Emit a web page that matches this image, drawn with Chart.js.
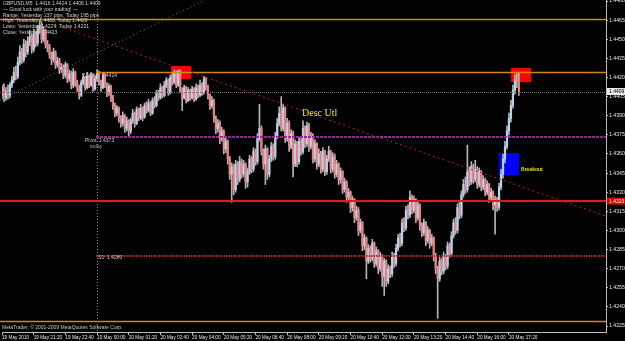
<!DOCTYPE html>
<html><head><meta charset="utf-8">
<script src="https://cdn.jsdelivr.net/npm/chart.js@4.4.0/dist/chart.umd.min.js"></script>
<style>html,body{margin:0;padding:0;background:#000;overflow:hidden}canvas{display:block}</style>
</head><body>
<canvas id="c" width="625" height="341"></canvas>
<script>
// ---------- DATA ----------
const infoLines = [
  'GBPUSD,M5  1.4416 1.4424 1.4406 1.4409',
  '\u2014 Good luck with your trading! \u2014',
  'Range: Yesterday 237 pips, Today 195 pips',
  'High: Yesterday 1.4466, Today 1.4426',
  'Lows: Yesterday 1.4229, Today 1.4231',
  'Close: Yesterday 1.4423'
];
const footerText = 'MetaTrader, \u00a9 2001-2009 MetaQuotes Software Corp.';

// x tick labels, one every 16 bars (80 minutes of M5 bars)
const tickLabels = ['19 May 2010','19 May 21:20','19 May 22:40','20 May 00:00','20 May 01:20','20 May 02:40',
  '20 May 04:00','20 May 05:20','20 May 06:40','20 May 08:00','20 May 09:20','20 May 10:40',
  '20 May 12:00','20 May 13:20','20 May 14:40','20 May 16:00','20 May 17:20'];
const yTicks = [1.4225,1.4240,1.4255,1.4270,1.4285,1.4300,1.4315,1.4330,1.4345,1.4360,1.4375,1.4390,1.4405,1.4420,1.4435,1.4450,1.4465,1.4480];

const opens = [
1.4406,1.4412,1.4404,1.4409,1.4406,1.4414,1.4418,1.4424,1.4421,1.4432,
1.4440,1.4434,1.4446,1.4440,1.4448,1.4452,1.4442,1.4454,1.4447,1.4458,
1.4461,1.4450,1.4457,1.4446,1.4444,1.4438,1.4434,1.4440,1.4430,1.4433,
1.4426,1.4428,1.4422,1.4430,1.4419,1.4423,1.4414,1.4424,1.4416,1.4412,
1.4406,1.4416,1.4420,1.4412,1.4421,1.4414,1.4422,1.4411,1.4419,1.4424,
1.4416,1.4412,1.4422,1.4414,1.4408,1.4413,1.4404,1.4398,1.4392,1.4396,
1.4388,1.4384,1.4390,1.4380,1.4386,1.4378,1.4386,1.4392,1.4384,1.4395,
1.4388,1.4396,1.4389,1.4398,1.4394,1.4400,1.4392,1.4402,1.4398,1.4408,
1.4404,1.4412,1.4406,1.4414,1.4418,1.4408,1.4420,1.4416,1.4424,1.4414,
1.4425,1.4410,1.4404,1.4412,1.4402,1.4410,1.4404,1.4411,1.4403,1.4412,
1.4406,1.4414,1.4408,1.4419,1.4412,1.4406,1.4398,1.4402,1.4388,1.4380,
1.4384,1.4372,1.4378,1.4364,1.4370,1.4356,1.4344,1.4350,1.4332,1.4352,
1.4340,1.4354,1.4344,1.4352,1.4338,1.4346,1.4356,1.4348,1.4362,1.4354,
1.4372,1.4380,1.4362,1.4352,1.4364,1.4344,1.4356,1.4366,1.4358,1.4374,
1.4384,1.4392,1.4380,1.4396,1.4372,1.4384,1.4366,1.4376,1.4352,1.4368,
1.4354,1.4370,1.4362,1.4380,1.4368,1.4382,1.4366,1.4374,1.4356,1.4368,
1.4352,1.4360,1.4348,1.4362,1.4346,1.4356,1.4362,1.4348,1.4358,1.4344,
1.4352,1.4340,1.4346,1.4332,1.4338,1.4326,1.4330,1.4318,1.4324,1.4310,
1.4316,1.4300,1.4306,1.4288,1.4294,1.4276,1.4286,1.4278,1.4290,1.4274,
1.4284,1.4270,1.4280,1.4264,1.4276,1.4260,1.4270,1.4266,1.4280,1.4274,
1.4286,1.4294,1.4290,1.4306,1.4302,1.4316,1.4312,1.4326,1.4316,1.4324,
1.4310,1.4320,1.4304,1.4298,1.4306,1.4292,1.4300,1.4290,1.4294,1.4280,
1.4270,1.4262,1.4276,1.4268,1.4280,1.4272,1.4288,1.4282,1.4296,1.4306,
1.4300,1.4318,1.4312,1.4328,1.4336,1.4332,1.4346,1.4338,1.4350,1.4340,
1.4348,1.4336,1.4346,1.4334,1.4340,1.4330,1.4336,1.4326,1.4330,1.4320,
1.4324,1.4318,1.4334,1.4344,1.4356,1.4366,1.4378,1.4388,1.4398,1.4410,
1.4418,1.4416];
const highs = [
1.4414,1.4415,1.4412,1.4414,1.4416,1.4421,1.4428,1.4429,1.4436,1.4445,
1.4443,1.4450,1.4449,1.4452,1.4457,1.4454,1.4458,1.4456,1.4461,1.4465,
1.4463,1.4460,1.4458,1.4449,1.4446,1.4440,1.4443,1.4441,1.4436,1.4435,
1.4431,1.4430,1.4432,1.4431,1.4426,1.4425,1.4427,1.4425,1.4418,1.4414,
1.4418,1.4423,1.4421,1.4424,1.4422,1.4424,1.4423,1.4421,1.4426,1.4425,
1.4418,1.4424,1.4423,1.4416,1.4415,1.4414,1.4406,1.4400,1.4398,1.4397,
1.4390,1.4393,1.4391,1.4389,1.4387,1.4388,1.4395,1.4393,1.4397,1.4396,
1.4399,1.4397,1.4400,1.4401,1.4403,1.4401,1.4404,1.4405,1.4410,1.4410,
1.4415,1.4413,1.4417,1.4420,1.4419,1.4422,1.4423,1.4426,1.4425,1.4426,
1.4426,1.4412,1.4414,1.4413,1.4412,1.4411,1.4413,1.4412,1.4415,1.4414,
1.4418,1.4416,1.4421,1.4420,1.4414,1.4407,1.4405,1.4403,1.4390,1.4387,
1.4386,1.4381,1.4379,1.4373,1.4371,1.4358,1.4353,1.4352,1.4355,1.4354,
1.4358,1.4356,1.4355,1.4353,1.4349,1.4359,1.4358,1.4365,1.4364,1.4376,
1.4399,1.4382,1.4364,1.4367,1.4365,1.4359,1.4369,1.4368,1.4377,1.4388,
1.4397,1.4405,1.4399,1.4397,1.4388,1.4386,1.4379,1.4378,1.4371,1.4370,
1.4373,1.4372,1.4386,1.4382,1.4385,1.4384,1.4377,1.4376,1.4371,1.4369,
1.4364,1.4362,1.4365,1.4363,1.4359,1.4366,1.4363,1.4361,1.4360,1.4355,
1.4353,1.4349,1.4347,1.4341,1.4339,1.4333,1.4331,1.4327,1.4325,1.4319,
1.4318,1.4309,1.4307,1.4297,1.4295,1.4289,1.4288,1.4293,1.4291,1.4287,
1.4285,1.4283,1.4281,1.4278,1.4277,1.4273,1.4272,1.4283,1.4282,1.4289,
1.4297,1.4298,1.4309,1.4310,1.4319,1.4320,1.4331,1.4328,1.4327,1.4325,
1.4323,1.4321,1.4306,1.4309,1.4307,1.4303,1.4301,1.4297,1.4295,1.4282,
1.4272,1.4279,1.4278,1.4283,1.4281,1.4291,1.4290,1.4299,1.4309,1.4310,
1.4321,1.4322,1.4331,1.4340,1.4342,1.4367,1.4350,1.4354,1.4352,1.4355,
1.4350,1.4349,1.4347,1.4343,1.4341,1.4339,1.4337,1.4333,1.4331,1.4327,
1.4326,1.4337,1.4348,1.4360,1.4370,1.4382,1.4392,1.4402,1.4414,1.4422,
1.4424,1.4424];
const lows = [
1.4403,1.4401,1.4402,1.4403,1.4404,1.4412,1.4416,1.4418,1.4419,1.4430,
1.4431,1.4432,1.4436,1.4438,1.4445,1.4439,1.4440,1.4444,1.4445,1.4455,
1.4447,1.4448,1.4443,1.4440,1.4435,1.4430,1.4432,1.4427,1.4428,1.4423,
1.4424,1.4419,1.4420,1.4416,1.4417,1.4411,1.4412,1.4413,1.4409,1.4403,
1.4405,1.4414,1.4410,1.4411,1.4412,1.4413,1.4409,1.4410,1.4417,1.4414,
1.4409,1.4411,1.4412,1.4405,1.4406,1.4401,1.4395,1.4389,1.4390,1.4385,
1.4381,1.4382,1.4377,1.4378,1.4374,1.4376,1.4384,1.4381,1.4383,1.4386,
1.4387,1.4386,1.4388,1.4392,1.4393,1.4390,1.4391,1.4396,1.4397,1.4402,
1.4403,1.4404,1.4405,1.4412,1.4406,1.4407,1.4414,1.4415,1.4412,1.4413,
1.4408,1.4394,1.4403,1.4400,1.4401,1.4402,1.4403,1.4401,1.4402,1.4404,
1.4405,1.4406,1.4407,1.4410,1.4403,1.4395,1.4396,1.4385,1.4376,1.4377,
1.4368,1.4370,1.4360,1.4361,1.4352,1.4340,1.4322,1.4328,1.4330,1.4336,
1.4338,1.4341,1.4342,1.4333,1.4334,1.4344,1.4345,1.4346,1.4351,1.4352,
1.4370,1.4359,1.4348,1.4336,1.4340,1.4342,1.4354,1.4355,1.4356,1.4372,
1.4382,1.4378,1.4378,1.4369,1.4370,1.4362,1.4364,1.4342,1.4350,1.4350,
1.4352,1.4359,1.4360,1.4365,1.4366,1.4362,1.4364,1.4353,1.4354,1.4348,
1.4350,1.4345,1.4346,1.4343,1.4344,1.4354,1.4345,1.4346,1.4341,1.4342,
1.4336,1.4337,1.4329,1.4330,1.4322,1.4323,1.4314,1.4315,1.4306,1.4308,
1.4296,1.4298,1.4284,1.4285,1.4262,1.4274,1.4275,1.4276,1.4271,1.4272,
1.4266,1.4268,1.4256,1.4249,1.4256,1.4258,1.4263,1.4264,1.4271,1.4272,
1.4284,1.4287,1.4288,1.4299,1.4300,1.4309,1.4310,1.4313,1.4314,1.4306,
1.4308,1.4300,1.4295,1.4296,1.4288,1.4290,1.4286,1.4288,1.4276,1.4266,
1.4231,1.4260,1.4265,1.4266,1.4269,1.4270,1.4279,1.4280,1.4294,1.4297,
1.4298,1.4309,1.4310,1.4326,1.4329,1.4330,1.4335,1.4336,1.4337,1.4338,
1.4333,1.4334,1.4331,1.4332,1.4327,1.4328,1.4322,1.4323,1.4316,1.4297,
1.4315,1.4316,1.4332,1.4341,1.4353,1.4364,1.4375,1.4385,1.4396,1.4407,
1.4412,1.4406];
const closes = [
1.4412,1.4404,1.4409,1.4406,1.4414,1.4418,1.4424,1.4421,1.4432,1.4440,
1.4434,1.4446,1.4440,1.4448,1.4452,1.4442,1.4454,1.4447,1.4458,1.4461,
1.4450,1.4457,1.4446,1.4444,1.4438,1.4434,1.4440,1.4430,1.4433,1.4426,
1.4428,1.4422,1.4430,1.4419,1.4423,1.4414,1.4424,1.4416,1.4412,1.4406,
1.4416,1.4420,1.4412,1.4421,1.4414,1.4422,1.4411,1.4419,1.4424,1.4416,
1.4412,1.4422,1.4414,1.4408,1.4413,1.4404,1.4398,1.4392,1.4396,1.4388,
1.4384,1.4390,1.4380,1.4386,1.4378,1.4386,1.4392,1.4384,1.4395,1.4388,
1.4396,1.4389,1.4398,1.4394,1.4400,1.4392,1.4402,1.4398,1.4408,1.4404,
1.4412,1.4406,1.4414,1.4418,1.4408,1.4420,1.4416,1.4424,1.4414,1.4425,
1.4410,1.4404,1.4412,1.4402,1.4410,1.4404,1.4411,1.4403,1.4412,1.4406,
1.4414,1.4408,1.4419,1.4412,1.4406,1.4398,1.4402,1.4388,1.4380,1.4384,
1.4372,1.4378,1.4364,1.4370,1.4356,1.4344,1.4350,1.4332,1.4352,1.4340,
1.4354,1.4344,1.4352,1.4338,1.4346,1.4356,1.4348,1.4362,1.4354,1.4372,
1.4380,1.4362,1.4352,1.4364,1.4344,1.4356,1.4366,1.4358,1.4374,1.4384,
1.4392,1.4380,1.4396,1.4372,1.4384,1.4366,1.4376,1.4352,1.4368,1.4354,
1.4370,1.4362,1.4380,1.4368,1.4382,1.4366,1.4374,1.4356,1.4368,1.4352,
1.4360,1.4348,1.4362,1.4346,1.4356,1.4362,1.4348,1.4358,1.4344,1.4352,
1.4340,1.4346,1.4332,1.4338,1.4326,1.4330,1.4318,1.4324,1.4310,1.4316,
1.4300,1.4306,1.4288,1.4294,1.4276,1.4286,1.4278,1.4290,1.4274,1.4284,
1.4270,1.4280,1.4264,1.4276,1.4260,1.4270,1.4266,1.4280,1.4274,1.4286,
1.4294,1.4290,1.4306,1.4302,1.4316,1.4312,1.4326,1.4316,1.4324,1.4310,
1.4320,1.4304,1.4298,1.4306,1.4292,1.4300,1.4290,1.4294,1.4280,1.4270,
1.4262,1.4276,1.4268,1.4280,1.4272,1.4288,1.4282,1.4296,1.4306,1.4300,
1.4318,1.4312,1.4328,1.4336,1.4332,1.4346,1.4338,1.4350,1.4340,1.4348,
1.4336,1.4346,1.4334,1.4340,1.4330,1.4336,1.4326,1.4330,1.4320,1.4324,
1.4318,1.4334,1.4344,1.4356,1.4366,1.4378,1.4388,1.4398,1.4410,1.4418,
1.4416,1.4409];

// horizontal price levels
const levelPrices = [1.4466, 1.4424, 1.4409, 1.4373, 1.4323, 1.4280, 1.4229];

// ---------- categories (M5 bar times) ----------
const barCount = 306;
const categories = [];
{
  const t0 = Date.UTC(2010, 4, 19, 20, 0);
  for (let i = 0; i < barCount; i++) {
    const d = new Date(t0 + i * 300000);
    categories.push(d.getUTCDate() + ' May ' + String(d.getUTCHours()).padStart(2,'0') + ':' + String(d.getUTCMinutes()).padStart(2,'0'));
  }
}
const tickEvery = 16;

// ---------- styling / annotation config ----------
const levelStyles = [
  {from:-1, color:'#d4870c', width:1.5, dash:[]},
  {from:47.5, color:'#d4870c', width:1.5, dash:[]},
  {from:-1, color:'#6e6e6e', width:1, dash:[1,1]},
  {from:47.5, color:'#a51fa8', width:2, dash:[3,1]},
  {from:-1, color:'#e01a1a', width:2, dash:[]},
  {from:47.5, color:'#b82a2a', width:2, dash:[1.5,1]},
  {from:-1, color:'#d4870c', width:1.5, dash:[]}
];
const boxes = [
  {from:85.4, to:95.5, top:1.4429, bottom:1.44188, color:'#ff0000'},
  {from:257.1, to:267.2, top:1.44274, bottom:1.44164, color:'#ff0000'},
  {from:251, to:261.1, top:1.43607, bottom:1.43435, color:'#0000ff'}
];
const trendLines = [
  {a:[26.8, 1.44612], b:[305, 1.43113], color:'#c41e1e', dash:[2,3], width:1},
  {a:[-1, 1.44022], b:[102.5, 1.44808], color:'#7a7a7a', dash:[1,3], width:1}
];
const notes = [
  {text:'Desc Utl', i:151.5, p:1.43921, color:'#e8e800', font:'10px "Liberation Serif"'},
  {text:'Breakout', i:262.1, p:1.43474, color:'#e0e000', font:'bold 5px "Liberation Sans"'},
  {text:'Y.Close: 1.4424', i:40.4, p:1.44212, color:'#c8c8c8', font:'5px "Liberation Sans"'},
  {text:'Pivot: 1.4373', i:41.9, p:1.43702, color:'#c8c8c8', font:'5px "Liberation Sans"'},
  {text:'today', i:44.4, p:1.43655, color:'#8fa8c8', font:'5px "Liberation Sans"'},
  {text:'S1: 1.4280', i:48.5, p:1.42783, color:'#c8c8c8', font:'5px "Liberation Sans"'}
];
const bullColor = '#b4d2ec', bearColor = '#f07c7c', wickColor = '#b4b4b4';

const overlay = {
  id:'overlay',
  beforeDraw(chart){
    const c = chart.ctx; c.save(); c.fillStyle = '#000'; c.fillRect(0,0,chart.width,chart.height); c.restore();
  },
  beforeDatasetsDraw(chart){
    const {ctx, chartArea:a, scales:{x, y}} = chart;
    ctx.save();
    boxes.forEach(b => {
      const x1 = x.getPixelForValue(b.from), x2 = x.getPixelForValue(b.to);
      const y1 = y.getPixelForValue(b.top), y2 = y.getPixelForValue(b.bottom);
      ctx.fillStyle = b.color; ctx.fillRect(x1, y1, x2 - x1, y2 - y1);
    });
    const xs = Math.round(x.getPixelForValue(48)) + 0.5;
    ctx.strokeStyle = '#8a8a8a'; ctx.lineWidth = 1; ctx.setLineDash([1,2]);
    ctx.beginPath(); ctx.moveTo(xs, a.top); ctx.lineTo(xs, a.bottom); ctx.stroke();
    ctx.restore();
  },
  afterDatasetsDraw(chart){
    const {ctx, chartArea:a, scales:{x, y}} = chart;
    ctx.save();
    ctx.beginPath(); ctx.rect(0, a.top, a.right, a.bottom - a.top); ctx.clip();
    levelPrices.forEach((p, k) => {
      const s = levelStyles[k];
      const py = Math.round(y.getPixelForValue(p)) + (s.width % 2 ? 0.5 : 0);
      const x1 = s.from < 0 ? 0 : x.getPixelForValue(s.from);
      ctx.strokeStyle = s.color; ctx.lineWidth = s.width; ctx.setLineDash(s.dash);
      ctx.beginPath(); ctx.moveTo(x1, py); ctx.lineTo(a.right, py); ctx.stroke();
    });
    trendLines.forEach(t => {
      ctx.strokeStyle = t.color; ctx.lineWidth = t.width; ctx.setLineDash(t.dash);
      ctx.beginPath();
      ctx.moveTo(x.getPixelForValue(t.a[0]), y.getPixelForValue(t.a[1]));
      ctx.lineTo(x.getPixelForValue(t.b[0]), y.getPixelForValue(t.b[1]));
      ctx.stroke();
    });
    ctx.setLineDash([]);
    ctx.textBaseline = 'middle'; ctx.textAlign = 'left';
    notes.forEach(n => {
      ctx.font = n.font; ctx.fillStyle = n.color;
      ctx.fillText(n.text, x.getPixelForValue(n.i), y.getPixelForValue(n.p));
    });
    ctx.restore();
  },
  afterDraw(chart){
    const {ctx, chartArea:a, scales:{y}} = chart;
    ctx.save();
    ctx.font = '5px "Liberation Sans"'; ctx.textBaseline = 'middle'; ctx.textAlign = 'left';
    infoLines.forEach((t, k) => { ctx.fillStyle = '#d0d0d0'; ctx.fillText(t, 3, 4 + k * 5.7); });
    ctx.fillStyle = '#c8c8c8'; ctx.fillText(footerText, 2, a.bottom - 4.5);
    const tags = [{p:1.4409, bg:'#e8e8e8', fg:'#000'}, {p:1.4323, bg:'#e00000', fg:'#ffffff'}];
    tags.forEach(t => {
      const py = y.getPixelForValue(t.p);
      ctx.fillStyle = t.bg; ctx.fillRect(a.right + 1, py - 3.5, chart.width - a.right - 1, 7);
      ctx.fillStyle = t.fg; ctx.fillText(t.p.toFixed(4), a.right + 3, py + 0.3);
    });
    ctx.restore();
  }
};

const bodyColors = closes.map((c, i) => c >= opens[i] ? bullColor : bearColor);

new Chart(document.getElementById('c'), {
  type:'bar',
  data:{
    labels: categories,
    datasets:[
      {label:'wick', data: lows.map((l, i) => [l, highs[i]]), backgroundColor: wickColor, barThickness:1, grouped:false, order:2, borderWidth:0},
      {label:'body', data: opens.map((o, i) => [o, closes[i]]), backgroundColor: bodyColors, barThickness:1.6, grouped:false, order:1, borderWidth:0, minBarLength:1}
    ]
  },
  options:{
    responsive:false, animation:false, devicePixelRatio:1,
    layout:{padding:{left:2, top:0, right:0, bottom:0}},
    plugins:{legend:{display:false}, tooltip:{enabled:false}},
    scales:{
      x:{
        type:'category', offset:false,
        grid:{display:true, offset:false, drawOnChartArea:false, drawTicks:true, tickLength:3,
          color: c => (c.index % tickEvery === 0 && c.index / tickEvery < tickLabels.length) ? '#bdbdbd' : 'rgba(0,0,0,0)'},
        border:{display:true, color:'#bdbdbd'},
        ticks:{autoSkip:false, maxRotation:0, minRotation:0, align:'start', padding:0,
          font:{size:4.7, family:'Liberation Sans'}, color:'#e6e6e6',
          callback:(v, i) => (i % tickEvery === 0 && tickLabels[i / tickEvery]) ? tickLabels[i / tickEvery] : ''},
        afterFit: s => { s.height = 9; s.paddingLeft = 0; s.paddingRight = 0; }
      },
      y:{
        position:'right', min:1.42203, max:1.44808,
        afterBuildTicks: s => { s.ticks = yTicks.map(v => ({value:v})); },
        grid:{drawOnChartArea:false, drawTicks:true, tickLength:2, color:'#bdbdbd'},
        border:{display:true, color:'#bdbdbd'},
        ticks:{padding:1, font:{size:5.2, family:'Liberation Sans'}, color:'#e6e6e6', callback: v => Number(v).toFixed(4)},
        afterFit: s => { s.width = 19; s.paddingTop = 0; s.paddingBottom = 0; }
      }
    }
  },
  plugins:[overlay]
});
</script>
</body></html>
